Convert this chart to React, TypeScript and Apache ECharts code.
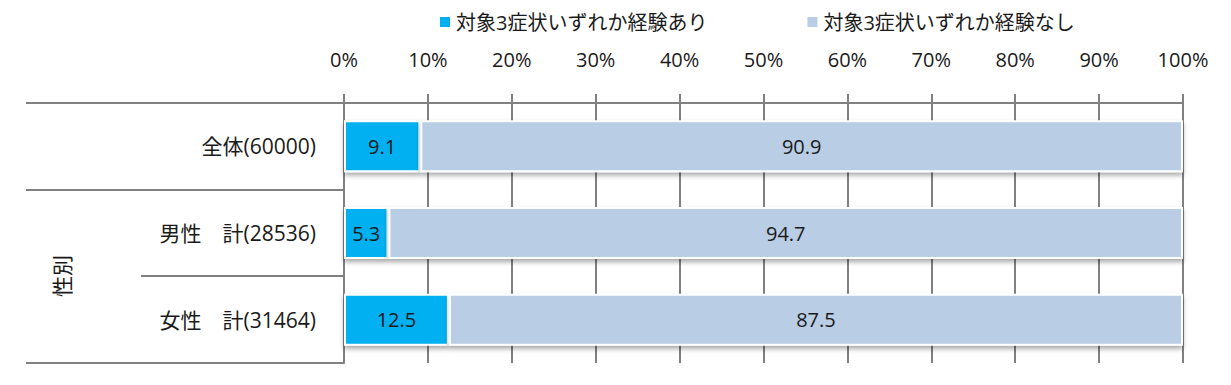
import React, { useEffect, useRef } from "react";
import * as echarts from "echarts";

const categories = ["全体(60000)", "男性　計(28536)", "女性　計(31464)"];
const seriesNames = ["対象3症状いずれか経験あり", "対象3症状いずれか経験なし"];
const experienced = [9.1, 5.3, 12.5];
const notExperienced = [90.9, 94.7, 87.5];
const groupLabel = "性別";

const FONT = "'Open Sans', 'Noto Sans CJK JP', sans-serif";
const GRAY = "#808080";
const TEXT = "#1a1a1a";

export default function App() {
  const ref = useRef<HTMLDivElement>(null);
  useEffect(() => {
    if (!ref.current) return;
    const chart = echarts.init(ref.current, undefined, { renderer: "svg" });
    const barStyle = {
      borderColor: "#ffffff",
      borderWidth: 2,
      shadowBlur: 5,
      shadowColor: "rgba(0,0,0,0.35)",
      shadowOffsetY: 3,
    };
    const label = {
      show: true,
      position: "inside",
      color: TEXT,
      fontSize: 20,
      fontFamily: FONT,
      formatter: (p: any) => p.value.toFixed(1),
    };
    chart.setOption({
      animation: false,
      textStyle: { fontFamily: FONT },
      legend: {
        top: 7,
        left: 433,
        itemGap: 98,
        itemWidth: 12,
        itemHeight: 12,
        icon: "rect",
        textStyle: { fontSize: 20, color: TEXT, fontFamily: FONT },
        data: seriesNames,
      },
      grid: { left: 344, right: 48, top: 103, bottom: 22 },
      xAxis: {
        type: "value",
        position: "top",
        min: 0,
        max: 100,
        interval: 10,
        axisLine: { show: true, lineStyle: { color: GRAY, width: 2 } },
        axisTick: { show: true, length: 9, lineStyle: { color: GRAY, width: 2 } },
        splitLine: { show: true, lineStyle: { color: GRAY, width: 2 } },
        axisLabel: {
          formatter: "{value}%",
          fontSize: 20,
          color: TEXT,
          fontFamily: FONT,
          margin: 34,
        },
      },
      yAxis: {
        type: "category",
        inverse: true,
        data: categories,
        axisLine: { show: true, lineStyle: { color: GRAY, width: 2 } },
        axisTick: { show: false },
        axisLabel: { fontSize: 21, color: TEXT, fontFamily: FONT, margin: 28 },
      },
      series: [
        {
          name: seriesNames[0],
          type: "bar",
          stack: "total",
          barWidth: 52,
          data: experienced,
          itemStyle: { color: "#00B0F0", ...barStyle },
          label,
        },
        {
          name: seriesNames[1],
          type: "bar",
          stack: "total",
          barWidth: 52,
          data: notExperienced,
          itemStyle: { color: "#B9CDE5", ...barStyle },
          label,
        },
      ],
      graphic: [
        { type: "line", shape: { x1: 26, y1: 103, x2: 344, y2: 103 }, style: { stroke: GRAY, lineWidth: 2 } },
        { type: "line", shape: { x1: 26, y1: 190, x2: 344, y2: 190 }, style: { stroke: GRAY, lineWidth: 2 } },
        { type: "line", shape: { x1: 141, y1: 276, x2: 344, y2: 276 }, style: { stroke: GRAY, lineWidth: 2 } },
        { type: "line", shape: { x1: 26, y1: 363, x2: 344, y2: 363 }, style: { stroke: GRAY, lineWidth: 2 } },
        {
          type: "text",
          x: 62,
          y: 276,
          rotation: Math.PI / 2,
          style: {
            text: groupLabel,
            fontSize: 21,
            fontFamily: FONT,
            fill: TEXT,
            align: "center",
            verticalAlign: "middle",
          },
        },
      ],
    });
    return () => chart.dispose();
  }, []);
  return <div ref={ref} style={{ width: 1231, height: 385, position: "absolute", left: 0, top: 0 }} />;
}
